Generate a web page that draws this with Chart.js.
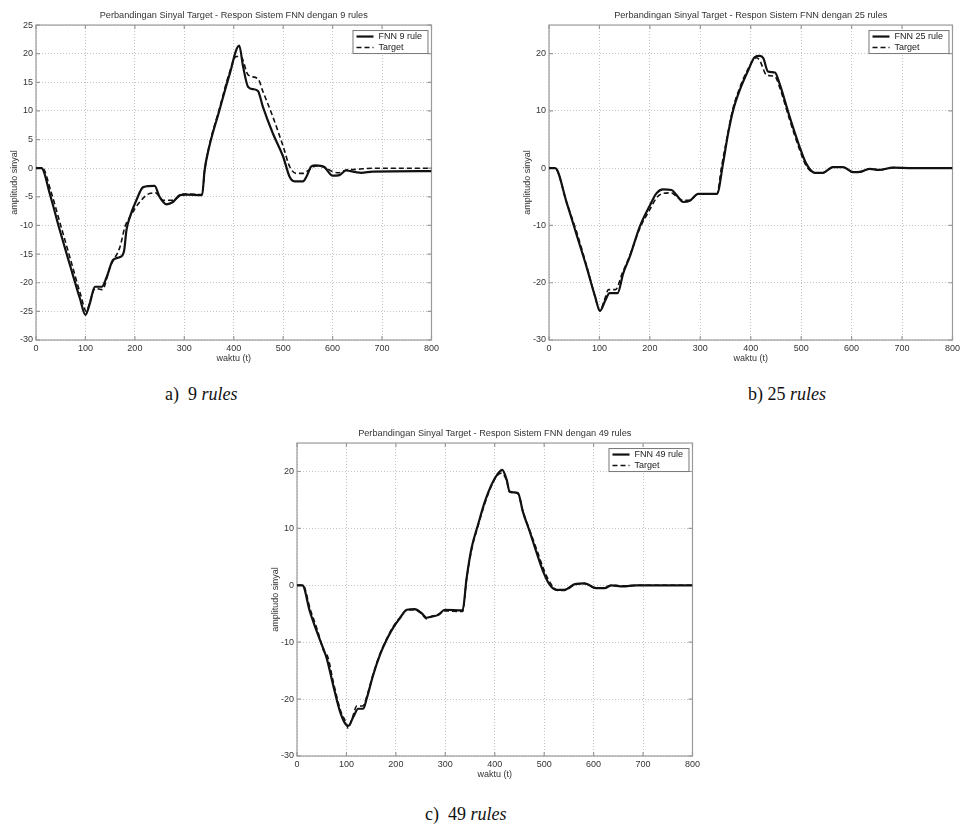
<!DOCTYPE html>
<html>
<head>
<meta charset="utf-8">
<script src="https://cdn.jsdelivr.net/npm/chart.js@4.4.0/dist/chart.umd.min.js"></script>
<style>
    body { margin: 0; background: #fff; }
    #page { position: relative; width: 964px; height: 830px; overflow: hidden; background: #fff; }
    canvas { position: absolute; }
    .cap { position: absolute; font-family: "Liberation Serif", "Times New Roman", serif; font-size: 18px; line-height: 20px; color: #111; white-space: pre; }
</style>
</head>
<body>
<div id="page">
    <canvas id="charta" width="442" height="370" style="left:0px;top:0px"></canvas>
    <canvas id="chartb" width="450" height="370" style="left:513px;top:0px"></canvas>
    <canvas id="chartc" width="442" height="368" style="left:261px;top:418px"></canvas>
    <div class="cap" style="left:165px;top:384px">a)  9 <i>rules</i></div>
    <div class="cap" style="left:748px;top:384px">b) 25 <i>rules</i></div>
    <div class="cap" style="left:425px;top:804px">c)  49 <i>rules</i></div>
</div>
<script>

// Data Storage {

    // 9 rules {

        const tFnn9 = [0, 11, 28, 48, 69, 89, 100, 109, 119, 133, 143, 156, 170, 178, 183, 190, 203, 217, 240, 250, 264, 277, 291, 304, 336, 341, 350, 371, 391, 411, 419, 429, 439, 449, 459, 479, 500, 513, 523, 540, 547, 557, 566, 583, 600, 614, 627, 647, 658, 681, 800];
        const vFnn9 = [0, 0, -4.5, -10.8, -17, -22.8, -25.6, -23.6, -20.7, -20.7, -19, -16, -15.5, -14.5, -10.8, -8.5, -5.6, -3.3, -3.1, -5, -6.3, -5.9, -4.7, -4.6, -4.7, -0.4, 3.6, 10.1, 16.2, 21.4, 17.7, 14.2, 13.8, 13.5, 10.7, 6.1, 2, -1.5, -2.3, -2.3, -1.5, 0.3, 0.5, 0.2, -1.3, -1.2, -0.4, -0.7, -0.8, -0.6, -0.5];

        const tTarget9 = [0, 13, 30, 50, 70, 90, 102, 110, 120, 134, 150, 170, 180, 190, 210, 230, 242, 257, 277, 298, 336, 341, 350, 371, 391, 405, 415, 429, 449, 459, 479, 500, 513, 526, 540, 554, 566, 583, 600, 612, 627, 647, 681, 800];
        const vTarget9 = [0, 0, -4, -10, -16, -22, -25, -23, -21, -21.2, -17.2, -13.7, -10.2, -8.5, -5.9, -4.4, -4.3, -5.6, -5.6, -4.5, -4.6, -0.5, 3.8, 10.4, 16.6, 19.5, 19.4, 16.3, 15.6, 13.4, 9, 3.8, 0.3, -0.9, -0.9, -0.2, 0.4, 0.2, -0.6, -0.8, -0.3, -0.2, 0, 0];

    // };

    // 25 rules {

        const tFnn25 = [0, 12, 35, 55, 75, 91, 101, 112, 120, 136, 147, 160, 180, 200, 213, 226, 243, 253, 266, 279, 296, 333, 345, 355, 365, 378, 395, 408, 418, 425, 434, 448, 457, 477, 497, 510, 527, 543, 563, 583, 603, 619, 636, 655, 682, 721, 800];
        const vFnn25 = [0, 0, -6, -11.7, -17.4, -22.3, -24.9, -23, -21.8, -21.8, -18.4, -15.5, -10.2, -6.5, -4.4, -3.7, -3.8, -4.7, -5.9, -5.7, -4.5, -4.5, 0.8, 6, 10.1, 13.6, 17.1, 19.4, 19.6, 19.2, 16.9, 16.7, 14.8, 9, 3.7, 0.8, -0.8, -0.8, 0.2, 0.2, -0.7, -0.6, -0.1, -0.3, 0.1, 0, 0];

        const tTarget25 = [0, 12, 35, 55, 75, 91, 101, 110, 118, 132, 145, 160, 180, 200, 213, 226, 243, 253, 266, 279, 296, 333, 342, 352, 365, 378, 395, 411, 418, 431, 448, 457, 477, 497, 510, 527, 543, 563, 583, 603, 619, 636, 655, 682, 721, 800];
        const vTarget25 = [0, 0, -6, -11.2, -17.2, -22.3, -24.9, -23, -21.2, -21.2, -18.4, -15.3, -10.5, -7.2, -5.2, -4.4, -4.3, -5, -5.6, -5.6, -4.5, -4.5, 0.2, 4.9, 10.5, 14, 17.4, 19.3, 18.8, 16.3, 16, 14.2, 8.5, 3.2, 0.4, -0.8, -0.8, 0.2, 0.2, -0.7, -0.6, -0.1, -0.3, 0.1, 0, 0];

    // };

    // 49 rules {

        const tFnn49 = [0, 11, 26, 40, 53, 60, 73, 87, 99, 104, 114, 124, 134, 141, 154, 168, 181, 195, 208, 222, 238, 252, 262, 272, 286, 299, 335, 343, 353, 366, 380, 393, 407, 415, 424, 430, 447, 457, 471, 484, 498, 511, 525, 541, 562, 582, 605, 622, 636, 659, 686, 800];
        const vFnn49 = [0, 0, -4.6, -8.1, -11.1, -12.8, -17.5, -22.2, -24.5, -24.7, -23.1, -21.7, -21.7, -19.9, -15.8, -12.2, -9.6, -7.4, -5.8, -4.3, -4.2, -4.9, -5.7, -5.5, -5.2, -4.3, -4.4, 1.2, 6.5, 10.6, 14.7, 17.6, 19.7, 20.3, 18.6, 16.5, 16.2, 12.9, 9.4, 5.9, 2.4, 0.1, -0.8, -0.8, 0.2, 0.35, -0.5, -0.5, 0, -0.2, 0, 0];

        const tTarget49 = [0, 12, 27, 41, 54, 62, 74, 88, 100, 103, 112, 121, 133, 141, 154, 168, 181, 195, 208, 222, 238, 252, 262, 272, 286, 299, 335, 343, 353, 366, 380, 393, 405, 413, 424, 430, 447, 457, 471, 486, 500, 514, 527, 541, 562, 582, 605, 622, 636, 659, 686, 800];
        const vTarget49 = [0, 0, -4.3, -7.8, -11.5, -12.5, -17.2, -22, -24.3, -25.1, -23.3, -21.2, -21.2, -19.6, -15.6, -12, -9.5, -7.2, -5.7, -4.4, -4.3, -5, -5.9, -5.5, -5.1, -4.5, -4.6, 1, 6.2, 10.4, 14.4, 17.4, 19.3, 19.7, 18.4, 16.4, 16.1, 13, 9.6, 6, 2.6, 0.2, -0.9, -0.9, 0.1, 0.3, -0.5, -0.4, 0, -0.1, 0, 0];

    // };

    // Axis {

        const xMin = 0, xMax = 800, xStep = 100;
        const yMin = -30, yMax = 25;

    // };

// };

// Chart Function {

    const FONT = '"Liberation Sans", Arial, sans-serif';

    const pts = (t, v) => t.map((x, i) => ({ x: x, y: v[i] }));

    // box round the plot + inner ticks, like matlab
    const frame = {
        id: 'frame',
        beforeDatasetsDraw(chart) {
            const { ctx, chartArea: a, scales: { x, y } } = chart;
            ctx.save();
            ctx.strokeStyle = '#9a9a9a';
            ctx.lineWidth = 1.2;
            ctx.strokeRect(a.left, a.top, a.right - a.left, a.bottom - a.top);
            ctx.beginPath();
            x.ticks.forEach(t => {
                const p = x.getPixelForValue(t.value);
                ctx.moveTo(p, a.bottom); ctx.lineTo(p, a.bottom - 4);
                ctx.moveTo(p, a.top); ctx.lineTo(p, a.top + 4);
            });
            y.ticks.forEach(t => {
                const p = y.getPixelForValue(t.value);
                ctx.moveTo(a.left, p); ctx.lineTo(a.left + 4, p);
                ctx.moveTo(a.right, p); ctx.lineTo(a.right - 4, p);
            });
            ctx.stroke();
            ctx.restore();
        }
    };

    // legend in a box at the top right of the plot
    const boxLegend = {
        id: 'boxlegend',
        afterDraw(chart) {
            const { ctx, chartArea: a } = chart;
            const sets = chart.data.datasets;
            ctx.save();
            ctx.font = '9px ' + FONT;
            let tw = 0;
            sets.forEach(d => { tw = Math.max(tw, ctx.measureText(d.label).width); });
            const w = Math.round(4 + 17 + 5 + tw + 5), h = 23;
            const x = a.right - 4 - w, y = a.top + 5;
            ctx.fillStyle = '#fff';
            ctx.fillRect(x, y, w, h);
            ctx.strokeStyle = '#777';
            ctx.lineWidth = 1;
            ctx.strokeRect(x + 0.5, y + 0.5, w, h);
            sets.forEach((d, i) => {
                const ly = y + 6.5 + i * 11;
                ctx.beginPath();
                ctx.setLineDash(d.borderDash || []);
                ctx.lineWidth = d.borderWidth;
                ctx.strokeStyle = d.borderColor;
                ctx.moveTo(x + 4, ly);
                ctx.lineTo(x + 21, ly);
                ctx.stroke();
                ctx.setLineDash([]);
                ctx.fillStyle = '#222';
                ctx.textBaseline = 'middle';
                ctx.fillText(d.label, x + 26, ly);
            });
            ctx.restore();
        }
    };

    function draw(id, title, fnnLabel, tF, vF, tT, vT, yStep) {
        const ctx = document.getElementById(id).getContext('2d');
        return new Chart(ctx, {
            type: 'line',
            data: {
                datasets: [
                    {
                        label: fnnLabel,
                        data: pts(tF, vF),
                        borderColor: '#111',
                        borderWidth: 2.2,
                        pointRadius: 0,
                        cubicInterpolationMode: 'monotone',
                    },
                    {
                        label: 'Target',
                        data: pts(tT, vT),
                        borderColor: '#111',
                        borderWidth: 1.6,
                        borderDash: [5, 3],
                        pointRadius: 0,
                        cubicInterpolationMode: 'monotone',
                    }
                ]
            },
            options: {
                responsive: false,
                animation: false,
                devicePixelRatio: 1,
                layout: { padding: { left: 0, right: 10, top: 0, bottom: 0 } },
                plugins: {
                    legend: { display: false },
                    tooltip: { enabled: false },
                    title: {
                        display: true,
                        text: title,
                        fullSize: false,
                        color: '#333',
                        font: { family: FONT, size: 9.2, weight: 'normal' },
                        padding: { top: 9.5, bottom: 4.5 }
                    }
                },
                scales: {
                    x: {
                        type: 'linear',
                        min: xMin, max: xMax,
                        ticks: { stepSize: xStep, color: '#333', padding: 3, maxRotation: 0, font: { family: FONT, size: 9 } },
                        grid: { color: '#c4c4c4', lineWidth: 1, drawTicks: false },
                        border: { display: false, dash: [1, 2] },
                        title: { display: true, text: 'waktu (t)', color: '#333', font: { family: FONT, size: 9 }, padding: { top: 0, bottom: 5.6 } },
                        afterFit(s) { s.height = 30; }
                    },
                    y: {
                        min: yMin, max: yMax,
                        ticks: { stepSize: yStep, includeBounds: false, color: '#333', padding: 3, font: { family: FONT, size: 9 } },
                        grid: { color: '#c4c4c4', lineWidth: 1, drawTicks: false },
                        border: { display: false, dash: [1, 2] },
                        title: { display: true, text: 'amplitudo sinyal', color: '#333', font: { family: FONT, size: 9 }, padding: { top: 9.6, bottom: 0 } },
                        afterFit(s) { s.width = 36; }
                    }
                }
            },
            plugins: [frame, boxLegend]
        });
    }

    // a) 9 rules
    const ca = draw('charta', 'Perbandingan Sinyal Target - Respon Sistem FNN dengan 9 rules', 'FNN 9 rule', tFnn9, vFnn9, tTarget9, vTarget9, 5);

    // b) 25 rules
    const cb = draw('chartb', 'Perbandingan Sinyal Target - Respon Sistem FNN dengan 25 rules', 'FNN 25 rule', tFnn25, vFnn25, tTarget25, vTarget25, 10);

    // c) 49 rules
    const cc = draw('chartc', 'Perbandingan Sinyal Target - Respon Sistem FNN dengan 49 rules', 'FNN 49 rule', tFnn49, vFnn49, tTarget49, vTarget49, 10);

// };

</script>
</body>
</html>
